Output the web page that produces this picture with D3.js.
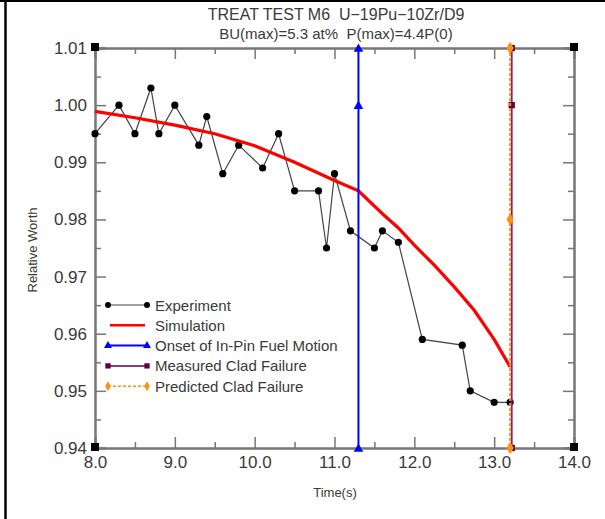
<!DOCTYPE html>
<html>
<head>
<meta charset="utf-8">
<script src="https://cdn.jsdelivr.net/npm/d3@7"></script>
<style>
  body { margin: 0; background: #fff; }
  text { font-family: "Liberation Sans", Arial, sans-serif; fill: #3a3a3a; white-space: pre; }
  .axis path, .axis line { stroke: #777; }
</style>
</head>
<body>
<div id="chart"></div>
<script>
// experiment points (time s, relative worth)
var expTime  = [8.0, 8.3, 8.5, 8.7, 8.8, 9.0, 9.3, 9.4, 9.6, 9.8, 10.1, 10.3, 10.5, 10.8, 10.9, 11.0, 11.2, 11.5, 11.6, 11.8, 12.1, 12.6, 12.7, 13.0, 13.2];
var expWorth = [0.995, 1.000, 0.995, 1.003, 0.995, 1.000, 0.993, 0.998, 0.988, 0.993, 0.989, 0.995, 0.985, 0.985, 0.975, 0.988, 0.978, 0.975, 0.978, 0.976, 0.959, 0.958, 0.950, 0.948, 0.948];
// simulation curve
var simTime  = [8.0, 8.5, 9.0, 9.5, 10.0, 10.5, 11.0, 11.3, 11.6, 11.8, 12.0, 12.25, 12.5, 12.75, 13.0, 13.2];
var simWorth = [0.9989, 0.9978, 0.9965, 0.9950, 0.9929, 0.9900, 0.9868, 0.9850, 0.9810, 0.9785, 0.9755, 0.9720, 0.9682, 0.9641, 0.9590, 0.9542];
// vertical event lines
var onsetTime = 11.3,  onsetMarks = [1.01, 1.00, 0.94];
var measTime  = 13.22, measMarks  = [1.01, 1.00, 0.94];
var predTime  = 13.2,  predMarks  = [1.01, 0.98, 0.94];
var xMajor = [8, 9, 10, 11, 12, 13, 14];
var yMajor = [0.94, 0.95, 0.96, 0.97, 0.98, 0.99, 1.00, 1.01];
var legendLabels = ["Experiment", "Simulation", "Onset of In-Pin Fuel Motion", "Measured Clad Failure", "Predicted Clad Failure"];

var width = 605, height = 519;
var margin = {top: 48, right: 31, bottom: 71, left: 95};
var plotWidth = width - margin.left - margin.right;
var plotHeight = height - margin.top - margin.bottom;

var svg = d3.select("#chart").append("svg").attr("width", width).attr("height", height);

// page frame (top and left only)
svg.append("line").attr("x1", 0).attr("x2", width).attr("y1", 1).attr("y2", 1).attr("stroke", "#000").attr("stroke-width", 2);
svg.append("line").attr("x1", 5.5).attr("x2", 5.5).attr("y1", 0).attr("y2", height).attr("stroke", "#000").attr("stroke-width", 2.5);

var x = d3.scaleLinear().domain([8, 14]).range([0, plotWidth]);
var y = d3.scaleLinear().domain([0.94, 1.01]).range([plotHeight, 0]);

var g = svg.append("g").attr("transform", "translate(" + margin.left + "," + margin.top + ")");

// titles
svg.append("text").attr("x", 336).attr("y", 20).attr("text-anchor", "middle").style("font-size", "16px").text("TREAT TEST M6  U\u221219Pu\u221210Zr/D9");
svg.append("text").attr("x", 336).attr("y", 39).attr("text-anchor", "middle").style("font-size", "15px").text("BU(max)=5.3 at%  P(max)=4.4P(0)");

// axes
var xMinor = d3.range(8.5, 14, 1);
var yMinor = d3.range(0.945, 1.01, 0.01);

g.append("g").attr("class", "axis").attr("transform", "translate(0," + plotHeight + ")")
  .call(d3.axisBottom(x).tickValues(xMajor).tickSize(-11).tickPadding(8).tickFormat(d3.format(".1f")))
  .call(function(a){ a.selectAll("text").style("font-size", "17px"); });
g.append("g").attr("class", "axis").attr("transform", "translate(0," + plotHeight + ")")
  .call(d3.axisBottom(x).tickValues(xMinor).tickSize(-6).tickFormat(""));
g.append("g").attr("class", "axis")
  .call(d3.axisTop(x).tickValues(xMajor).tickSize(-11).tickFormat(""));
g.append("g").attr("class", "axis")
  .call(d3.axisTop(x).tickValues(xMinor).tickSize(-6).tickFormat(""));
g.append("g").attr("class", "axis")
  .call(d3.axisLeft(y).tickValues(yMajor).tickSize(-11).tickPadding(8).tickFormat(d3.format(".2f")))
  .call(function(a){ a.selectAll("text").style("font-size", "17px"); });
g.append("g").attr("class", "axis")
  .call(d3.axisLeft(y).tickValues(yMinor).tickSize(-6).tickFormat(""));
g.append("g").attr("class", "axis").attr("transform", "translate(" + plotWidth + ",0)")
  .call(d3.axisRight(y).tickValues(yMajor).tickSize(-11).tickFormat(""));
g.append("g").attr("class", "axis").attr("transform", "translate(" + plotWidth + ",0)")
  .call(d3.axisRight(y).tickValues(yMinor).tickSize(-6).tickFormat(""));
g.selectAll(".axis path").attr("stroke-width", 2);
g.selectAll(".axis line").attr("stroke-width", 1.5);
g.selectAll(".axis text").style("fill", "#3a3a3a").style("font-family", "Liberation Sans, Arial, sans-serif");

// corner squares
[[8, 0.94], [8, 1.01], [14, 0.94], [14, 1.01]].forEach(function(c){
  g.append("rect").attr("x", x(c[0]) - 4).attr("y", y(c[1]) - 5).attr("width", 8).attr("height", 8).attr("fill", "#000");
});

svg.append("text").attr("x", 335).attr("y", 497).attr("text-anchor", "middle").style("font-size", "13px").text("Time(s)");
svg.append("text").attr("transform", "translate(37,250) rotate(-90)").attr("text-anchor", "middle").style("font-size", "13px").text("Relative Worth");

var tri = d3.symbol().type(d3.symbolTriangle).size(40);
var sq = d3.symbol().type(d3.symbolSquare).size(40);
var dia = d3.symbol().type(d3.symbolDiamond).size(45);

// experiment
var expData = expTime.map(function(t, i){ return [t, expWorth[i]]; });
var line = d3.line().x(function(d){ return x(d[0]); }).y(function(d){ return y(d[1]); });
g.append("path").datum(expData).attr("d", line).attr("fill", "none").attr("stroke", "#444").attr("stroke-width", 1.2);
g.selectAll(".dot").data(expData).enter().append("circle")
  .attr("cx", function(d){ return x(d[0]); }).attr("cy", function(d){ return y(d[1]); })
  .attr("r", 3.6).attr("fill", "#000");

// simulation
var simData = simTime.map(function(t, i){ return [t, simWorth[i]]; });
g.append("path").datum(simData).attr("d", line).attr("fill", "none").attr("stroke", "#ff0000").attr("stroke-width", 3.2);

// onset of fuel motion
g.append("line").attr("x1", x(onsetTime)).attr("x2", x(onsetTime)).attr("y1", y(1.01)).attr("y2", y(0.94)).attr("stroke", "#0000ff").attr("stroke-width", 2);
g.selectAll(".tri").data(onsetMarks).enter().append("path").attr("d", tri)
  .attr("transform", function(d){ return "translate(" + x(onsetTime) + "," + (y(d) + 1) + ")"; }).attr("fill", "#0000ff");

// measured clad failure
g.append("line").attr("x1", x(measTime)).attr("x2", x(measTime)).attr("y1", y(1.01)).attr("y2", y(0.94)).attr("stroke", "#802060").attr("stroke-width", 1.8);
g.selectAll(".sq").data(measMarks).enter().append("path").attr("d", sq)
  .attr("transform", function(d){ return "translate(" + x(measTime) + "," + y(d) + ")"; }).attr("fill", "#600040");

// predicted clad failure
g.append("line").attr("x1", x(predTime)).attr("x2", x(predTime)).attr("y1", y(1.01)).attr("y2", y(0.94)).attr("stroke", "#ff9010").attr("stroke-width", 2).attr("stroke-dasharray", "3,2");
g.selectAll(".dia").data(predMarks).enter().append("path").attr("d", dia)
  .attr("transform", function(d){ return "translate(" + x(predTime) + "," + y(d) + ")"; }).attr("fill", "#ff9010");

// legend
var leg = svg.append("g").attr("transform", "translate(108,305)");
var rows = [
  {stroke: "#444", w: 1.2, dash: null, mark: "circle", fill: "#000"},
  {stroke: "#ff0000", w: 2.5, dash: null, mark: null},
  {stroke: "#0000ff", w: 2, dash: null, mark: tri, fill: "#0000ff"},
  {stroke: "#600040", w: 1.5, dash: null, mark: sq, fill: "#600040"},
  {stroke: "#ff9010", w: 1.5, dash: "3,2", mark: dia, fill: "#ff9010"}
];
rows.forEach(function(r, i){
  var row = leg.append("g").attr("transform", "translate(0," + (i * 20.3) + ")");
  var x0 = i === 1 ? 2 : 0, x1 = i === 1 ? 37 : 39;
  row.append("line").attr("x1", x0).attr("x2", x1).attr("y1", 0).attr("y2", 0)
    .attr("stroke", r.stroke).attr("stroke-width", r.w).attr("stroke-dasharray", r.dash);
  if (r.mark === "circle") {
    [0, 39].forEach(function(px){ row.append("circle").attr("cx", px).attr("cy", 0).attr("r", 3).attr("fill", r.fill); });
  } else if (r.mark) {
    [0, 39].forEach(function(px){ row.append("path").attr("d", r.mark.size(28)).attr("transform", "translate(" + px + ",0)").attr("fill", r.fill); });
  }
  row.append("text").attr("x", 47).attr("y", 5.5).style("font-size", "15px").text(legendLabels[i]);
});
</script>
</body>
</html>
